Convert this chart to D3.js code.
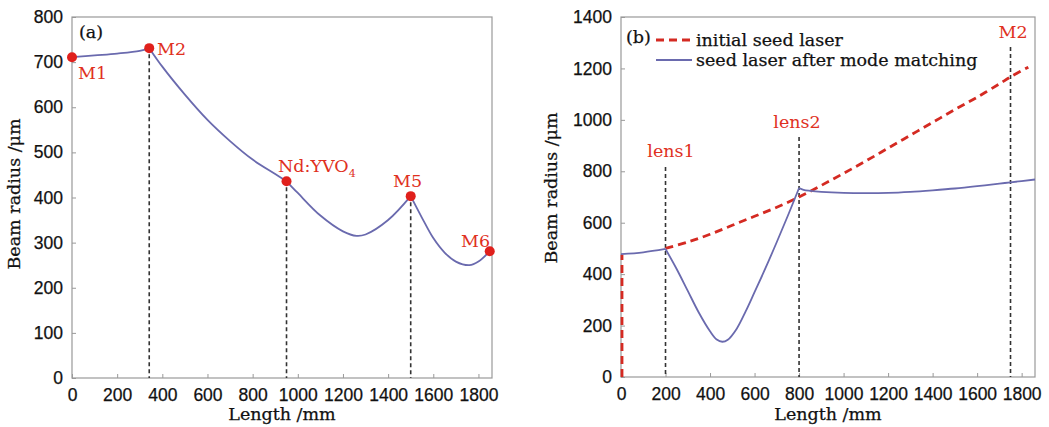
<!DOCTYPE html>
<html lang="en">
<head>
  <meta charset="UTF-8">
  <title>Beam radius along the cavity</title>
  <script src="https://d3js.org/d3.v7.min.js"></script>
  <style>
    body { margin: 0; padding: 0; background: #fff; }
    svg { display: block; font-family: "DejaVu Serif", "Liberation Serif", serif; }
    .tick text { font-size: 17.5px; fill: #111; stroke: #111; stroke-width: 0.25px; }
    .axis-title { font-size: 17.5px; fill: #111; stroke: #111; stroke-width: 0.25px; }
    .red-label { font-size: 17.5px; fill: #e0301e; }
  </style>
</head>
<body>
  <svg id="chart" width="1049" height="427"></svg>

  <script>
    // ---- panel (a): resonator beam radius ----
    const lenA = [0, 100, 200, 300, 342, 400, 500, 600, 700, 800, 900, 950, 1000, 1100, 1200, 1260, 1300, 1400, 1500, 1550, 1600, 1650, 1700, 1760, 1800, 1850];
    const radA = [711, 715, 719, 725, 731, 690, 628, 572, 525, 484, 452, 436, 410, 360, 325, 315, 318, 350, 403, 355, 310, 278, 258, 250, 258, 281];
    const elemNamesA = ["M1", "M2", "Nd:YVO4", "M5", "M6"];
    const elemPosA = [0, 342, 950, 1500, 1850];
    const elemRadA = [711, 731, 436, 403, 281];
    const ticksXA = [0, 200, 400, 600, 800, 1000, 1200, 1400, 1600, 1800];
    const ticksYA = [0, 100, 200, 300, 400, 500, 600, 700, 800];

    // ---- panel (b): seed laser ----
    const lenInit = [200, 300, 400, 500, 600, 700, 800, 900, 1000, 1100, 1200, 1300, 1400, 1500, 1600, 1700, 1750, 1830];
    const radInit = [500, 525, 555, 590, 625, 660, 700, 745, 792, 840, 890, 940, 990, 1040, 1088, 1140, 1167, 1205];
    const lenInitStart = [0, 0];
    const radInitStart = [0, 475];
    const lenMatch = [0, 100, 200, 250, 300, 350, 400, 430, 455, 480, 520, 560, 600, 650, 700, 750, 800, 820, 850, 900, 1000, 1100, 1200, 1300, 1400, 1500, 1600, 1700, 1750, 1860];
    const radMatch = [478, 485, 498, 420, 335, 250, 178, 146, 137, 145, 188, 255, 330, 425, 525, 628, 735, 728, 724, 720, 716, 715, 716, 720, 726, 733, 742, 752, 757, 768];
    const elemNamesB = ["lens1", "lens2", "M2"];
    const elemPosB = [200, 800, 1750];
    const ticksXB = [0, 200, 400, 600, 800, 1000, 1200, 1400, 1600, 1800];
    const ticksYB = [0, 200, 400, 600, 800, 1000, 1200, 1400];
    const legendNames = ["initial seed laser", "seed laser after mode matching"];

    const blue = "#6a6aae";
    const red = "#d42a22";
    const svg = d3.select("#chart");

    function zip(xs, ys) { return xs.map((x, i) => [x, ys[i]]); }

    // split a series at the given element positions so kinks stay sharp
    function pieces(pts, cuts) {
      const out = [];
      for (let i = 0; i < cuts.length - 1; i++) {
        const seg = pts.filter(p => p[0] >= cuts[i] && p[0] <= cuts[i + 1]);
        if (seg.length > 1) out.push(seg);
      }
      return out;
    }

    function frame(g, x, y, xTicks, yTicks) {
      const [x0, x1] = x.range();
      const [y0, y1] = y.range();
      g.append("g")
        .attr("transform", `translate(0,${y0})`)
        .call(d3.axisTop(x).tickValues(xTicks).tickSize(4).tickFormat(""))
        .call(a => a.select(".domain").remove())
        .selectAll("line").attr("stroke", "#999");
      g.append("g")
        .attr("transform", `translate(0,${y0})`)
        .call(d3.axisBottom(x).tickValues(xTicks).tickSize(0).tickPadding(11).tickFormat(d3.format("d")))
        .call(a => a.select(".domain").remove());
      g.append("g")
        .attr("transform", `translate(${x0},0)`)
        .call(d3.axisRight(y).tickValues(yTicks).tickSize(4).tickFormat(""))
        .call(a => a.select(".domain").remove())
        .selectAll("line").attr("stroke", "#999");
      g.append("g")
        .attr("transform", `translate(${x0},0)`)
        .call(d3.axisLeft(y).tickValues(yTicks).tickSize(0).tickPadding(9).tickFormat(d3.format("d")))
        .call(a => a.select(".domain").remove());
      g.selectAll(".tick text").attr("font-family", null).attr("font-size", null);
      g.append("rect")
        .attr("x", x0).attr("y", y1)
        .attr("width", x1 - x0).attr("height", y0 - y1)
        .attr("fill", "none").attr("stroke", "#999").attr("stroke-width", 1.2);
    }

    function titles(g, x, y, cy, off) {
      const [x0, x1] = x.range();
      g.append("text").attr("class", "axis-title")
        .attr("x", (x0 + x1) / 2).attr("y", 420)
        .attr("text-anchor", "middle").text("Length /mm");
      g.append("text").attr("class", "axis-title")
        .attr("transform", `translate(${x0 - off},${cy}) rotate(-90)`)
        .attr("text-anchor", "middle").text("Beam radius /μm");
    }

    // ================= panel (a) =================
    const xA = d3.scaleLinear().domain([0, 1860]).range([72, 492]);
    const yA = d3.scaleLinear().domain([0, 800]).range([378, 17]);
    const gA = svg.append("g");
    frame(gA, xA, yA, ticksXA, ticksYA);
    titles(gA, xA, yA, 194, 52);

    const lineA = d3.line().x(d => xA(d[0])).y(d => yA(d[1])).curve(d3.curveCatmullRom);
    // dashed markers down to the axis for the inner elements
    elemPosA.slice(1, 4).forEach((p, i) => {
      gA.append("line")
        .attr("x1", xA(p)).attr("x2", xA(p))
        .attr("y1", yA(elemRadA[i + 1]) + 6).attr("y2", yA(0))
        .attr("stroke", "#333").attr("stroke-width", 1.6).attr("stroke-dasharray", "4,3");
    });
    pieces(zip(lenA, radA), [0, 342, 950, 1500, 1850]).forEach(seg => {
      gA.append("path").attr("d", lineA(seg))
        .attr("fill", "none").attr("stroke", blue).attr("stroke-width", 1.8);
    });
    gA.selectAll("circle.elem").data(elemPosA).join("circle")
      .attr("class", "elem")
      .attr("cx", d => xA(d)).attr("cy", (d, i) => yA(elemRadA[i]))
      .attr("r", 5).attr("fill", "#e0201c");

    const labA = [[78, 79], [157, 55], [278, 172], [393, 187], [461, 247]];
    elemNamesA.forEach((n, i) => {
      const t = gA.append("text").attr("class", "red-label")
        .attr("x", labA[i][0]).attr("y", labA[i][1]);
      if (n === "Nd:YVO4") {
        t.append("tspan").text("Nd:YVO");
        t.append("tspan").attr("dy", 5).attr("font-size", 11).text("4");
      } else {
        t.text(n);
      }
    });
    gA.append("text").attr("class", "axis-title").attr("x", 79).attr("y", 38).text("(a)");

    // ================= panel (b) =================
    const xB = d3.scaleLinear().domain([0, 1860]).range([621, 1035]);
    const yB = d3.scaleLinear().domain([0, 1400]).range([377, 17]);
    const gB = svg.append("g");
    frame(gB, xB, yB, ticksXB, ticksYB);
    titles(gB, xB, yB, 188, 64);

    const lineB = d3.line().x(d => xB(d[0])).y(d => yB(d[1])).curve(d3.curveCatmullRom);
    const labTopB = [167, 137, 47];
    elemPosB.forEach((p, i) => {
      gB.append("line")
        .attr("x1", xB(p)).attr("x2", xB(p))
        .attr("y1", labTopB[i]).attr("y2", yB(0))
        .attr("stroke", "#333").attr("stroke-width", 1.6).attr("stroke-dasharray", "4,3");
    });

    gB.append("path").attr("d", d3.line()(zip(lenInitStart, radInitStart).map(d => [xB(d[0]) + 1, yB(d[1])])))
      .attr("fill", "none").attr("stroke", red).attr("stroke-width", 2.8).attr("stroke-dasharray", "8,5");
    gB.append("path").attr("d", lineB(zip(lenInit, radInit)))
      .attr("fill", "none").attr("stroke", red).attr("stroke-width", 2.8).attr("stroke-dasharray", "8,5");
    pieces(zip(lenMatch, radMatch), [0, 200, 800, 1860]).forEach(seg => {
      gB.append("path").attr("d", lineB(seg))
        .attr("fill", "none").attr("stroke", blue).attr("stroke-width", 1.8);
    });

    const labB = [[671, 157], [797, 128], [1013, 38]];
    elemNamesB.forEach((n, i) => {
      gB.append("text").attr("class", "red-label")
        .attr("x", labB[i][0]).attr("y", labB[i][1])
        .attr("text-anchor", "middle").text(n);
    });

    // legend
    gB.append("text").attr("class", "axis-title").attr("x", 626).attr("y", 43).text("(b)");
    const leg = gB.append("g");
    legendNames.forEach((n, i) => {
      const yy = 40 + i * 20;
      leg.append("line").attr("x1", 656).attr("x2", 692).attr("y1", yy).attr("y2", yy)
        .attr("stroke", i === 0 ? red : blue)
        .attr("stroke-width", i === 0 ? 2.8 : 1.8)
        .attr("stroke-dasharray", i === 0 ? "8,5" : null);
      leg.append("text").attr("class", "axis-title")
        .attr("x", 696).attr("y", yy + 6).text(n);
    });
  </script>
</body>
</html>
